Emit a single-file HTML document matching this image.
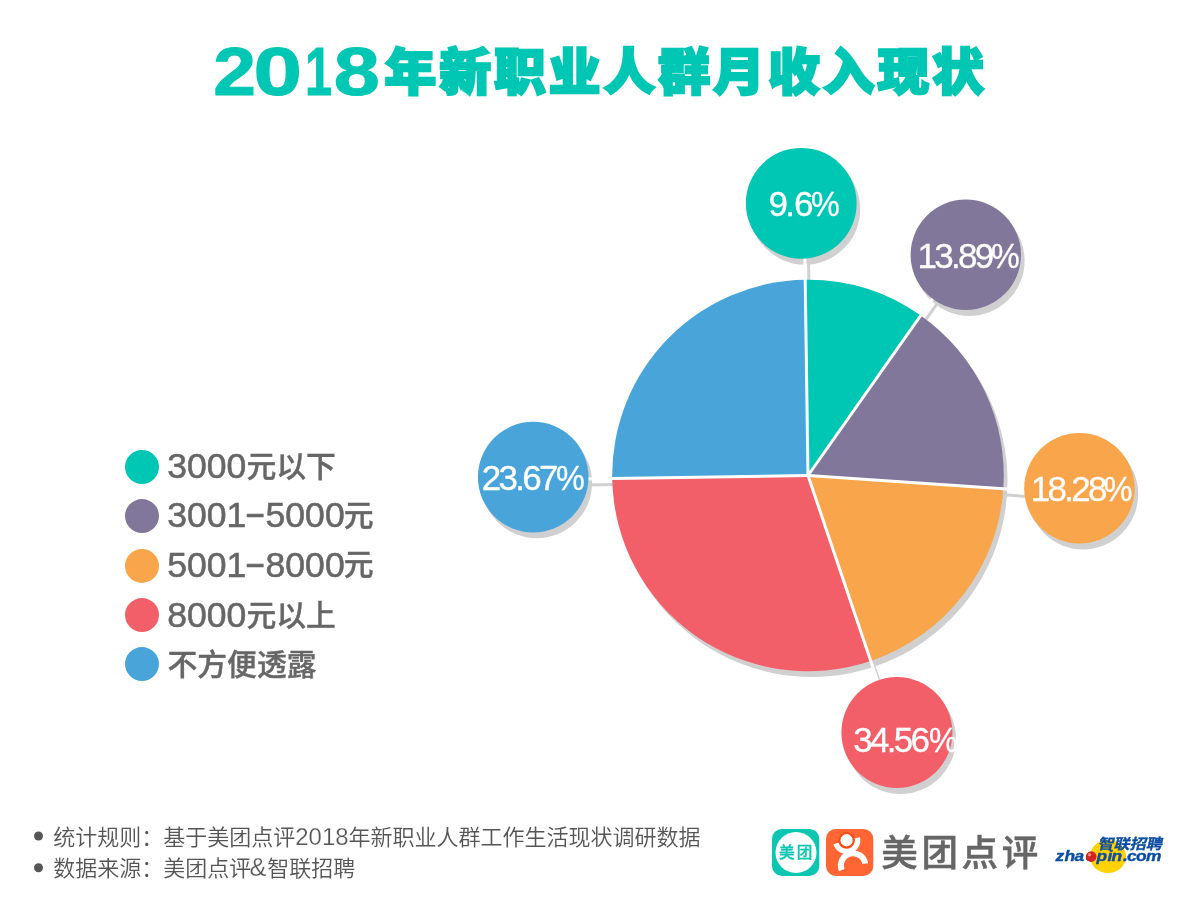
<!DOCTYPE html>
<html lang="zh-CN">
<head>
<meta charset="utf-8">
<title>2018年新职业人群月收入现状</title>
<style>
html,body{margin:0;padding:0;background:#fff;}
body{width:1200px;height:900px;overflow:hidden;position:relative;font-family:"Liberation Sans","Noto Sans CJK SC",sans-serif;}
svg{position:absolute;left:0;top:0;display:block;}
text{white-space:pre;}
.pct{font-family:"Liberation Sans",sans-serif;font-size:35px;fill:#fff;stroke:#fff;stroke-width:0.3px;letter-spacing:-2.7px;}
.lgd{font-family:"Liberation Sans",sans-serif;font-size:34.5px;fill:#666;stroke:#666;stroke-width:0.55px;}
.lgc{font-family:"Liberation Sans","Noto Sans CJK SC",sans-serif;font-size:29.8px;font-weight:500;fill:#666;stroke:#666;stroke-width:0.4px;}
.ft{font-family:"Liberation Sans","Noto Sans CJK SC",sans-serif;font-size:22px;font-weight:350;fill:#555;}
.ftd{font-size:24px;stroke:#fff;stroke-width:0.25px;}
.ttl{font-family:"Liberation Sans","Noto Sans CJK SC",sans-serif;font-weight:900;fill:#00c7b3;}
</style>
</head>
<body>
<svg width="1200" height="900" viewBox="0 0 1200 900">
<rect width="1200" height="900" fill="#fff"/>
<!-- title -->
<g class="ttl" font-weight="700" font-size="68" stroke="#00c7b3" stroke-width="1"><text transform="translate(213.15 95.1) scale(1.13 1)">2</text><text transform="translate(253.4 95.1) scale(1.28 1)">0</text><text transform="translate(305.0 95.1) scale(0.716 1)">1</text><text transform="translate(333.8 95.1) scale(1.217 1)">8</text></g>
<text class="ttl" font-size="51.8" letter-spacing="3" stroke="#00c7b3" stroke-width="2.4" stroke-linejoin="miter" transform="translate(384.4 90) scale(1 0.956)">年新职业人群月收入现状</text>
<!-- pie -->
<g fill="#d0d0d0">
<circle cx="811.7" cy="481.1" r="195.8"/>
<circle cx="804.85" cy="209.2" r="55.4"/>
<circle cx="969.4" cy="260.7" r="55.2"/>
<circle cx="1083" cy="494.2" r="55.2"/>
<circle cx="900.5" cy="738.4" r="55.5"/>
<circle cx="536.8" cy="483" r="55.3"/>
</g>
<g stroke="#d0d0d0" stroke-width="3.0">
<line x1="811.7" y1="481.7" x2="808.18" y2="235.73"/>
<line x1="811.7" y1="481.7" x2="953.35" y2="280.57"/>
<line x1="811.7" y1="481.7" x2="1057.13" y2="498.48"/>
<line x1="811.7" y1="481.7" x2="890.55" y2="714.72"/>
<line x1="811.7" y1="481.7" x2="565.73" y2="485.34"/>
</g>
<g>
<path fill="#00c7b3" d="M808 475.5L805.2 279.72A195.8 195.8 0 0 1 920.74 315.42Z"/>
<path fill="#81779b" d="M808 475.5L920.74 315.42A195.8 195.8 0 0 1 1003.34 488.86Z"/>
<path fill="#f8a54b" d="M808 475.5L1003.34 488.86A195.8 195.8 0 0 1 870.76 660.97Z"/>
<path fill="#f25f69" d="M808 475.5L870.76 660.97A195.8 195.8 0 0 1 612.22 478.4Z"/>
<path fill="#48a4d9" d="M808 475.5L612.22 478.4A195.8 195.8 0 0 1 805.2 279.72Z"/>
</g>
<g stroke="#fff" stroke-width="3.0" stroke-linecap="round">
<line x1="808" y1="475.5" x2="804.48" y2="229.53"/>
<line x1="808" y1="475.5" x2="949.65" y2="274.37"/>
<line x1="808" y1="475.5" x2="1053.43" y2="492.28"/>
<line x1="808" y1="475.5" x2="886.85" y2="708.52"/>
<line x1="808" y1="475.5" x2="562.03" y2="479.14"/>
</g>
<g>
<circle cx="801.25" cy="203.3" r="55.4" fill="#00c7b3"/>
<circle cx="965.8" cy="254.8" r="55.2" fill="#81779b"/>
<circle cx="1079.4" cy="488.3" r="55.2" fill="#f8a54b"/>
<circle cx="896.9" cy="732.5" r="55.5" fill="#f25f69"/>
<circle cx="533.2" cy="477.1" r="55.3" fill="#48a4d9"/>
</g>
<!-- pct labels -->
<text class="pct" x="768.6" y="216.0">9.<tspan dx="1.6">6</tspan></text><text class="pct" transform="translate(811.0 216.0) scale(0.925 1)">%</text>
<text class="pct" x="917.4" y="268.3">13.89</text><text class="pct" transform="translate(990.9 268.3) scale(0.925 1)">%</text>
<text class="pct" x="1030.8" y="500.8">18.28</text><text class="pct" transform="translate(1103.8 500.8) scale(0.925 1)">%</text>
<text class="pct" x="853.2" y="751.7">34.56</text><text class="pct" transform="translate(928.9 751.7) scale(0.925 1)">%</text>
<text class="pct" x="481.8" y="489.6">23.67</text><text class="pct" transform="translate(556.1 489.6) scale(0.925 1)">%</text>
<!-- legend -->
<g>
<circle cx="142" cy="467" r="17" fill="#00c7b3"/>
<circle cx="142" cy="516.1" r="17" fill="#81779b"/>
<circle cx="142" cy="565.9" r="17" fill="#f8a54b"/>
<circle cx="142" cy="615.1" r="17" fill="#f25f69"/>
<circle cx="142" cy="664.1" r="17" fill="#48a4d9"/>
<text class="lgd" transform="translate(167.2 477.9) scale(1.03 1)">3000</text><text class="lgc" x="246.4" y="476.6">元以下</text>
<text class="lgd" transform="translate(167.2 527.0) scale(1.03 1)">3001</text><text class="lgd" transform="translate(247 526.4) scale(0.85 1.25)">–</text><text class="lgd" transform="translate(265.6 527.0) scale(1.03 1)">5000</text><text class="lgc" x="343.8" y="525.7">元</text>
<text class="lgd" transform="translate(167.2 576.5) scale(1.03 1)">5001</text><text class="lgd" transform="translate(247 575.9) scale(0.85 1.25)">–</text><text class="lgd" transform="translate(265.6 576.5) scale(1.03 1)">8000</text><text class="lgc" x="343.8" y="575.0">元</text>
<text class="lgd" transform="translate(167.2 627) scale(1.03 1)">8000</text><text class="lgc" x="246.4" y="625.7">元以上</text>
<text class="lgc" x="167.5" y="675.3">不方便透露</text>
</g>
<!-- footer -->
<circle cx="38.5" cy="836" r="4.5" fill="#555"/>
<circle cx="38.5" cy="867.8" r="4.5" fill="#555"/>
<text class="ft" x="53.2" y="844.6">统计规则：基于美团点评<tspan class="ftd">2018</tspan>年新职业人群工作生活现状调研数据</text>
<text class="ft" x="53.2" y="876.4">数据来源：美团点评<tspan class="ftd" style="font-size:25.5px" dx="-1.6">&amp;</tspan><tspan dx="0.6">智联招聘</tspan></text>
<!-- logos -->
<g>
<rect x="772" y="828.9" width="47.3" height="47.1" rx="10" fill="#0cc6b1"/>
<circle cx="796" cy="852.4" r="20.5" fill="#fff"/>
<text x="778.9" y="858.4" font-size="15.6" font-weight="500" letter-spacing="2.2" fill="#0cc6b1" stroke="#0cc6b1" stroke-width="0.3" style="font-family:'Liberation Sans','Noto Sans CJK SC',sans-serif">美团</text>
<rect x="826" y="828.9" width="47.3" height="47.1" rx="10" fill="#ff6633"/>
<g fill="none" stroke="#fff">
<path d="M835.97 843.5A11.1 11.1 0 0 0 857.4 837.75" stroke-width="5.3"/>
<path d="M841.73 870.04A12.26 12.26 0 1 1 865.23 863.64" stroke-width="5.9"/>
</g>
<circle cx="846.58" cy="840.25" r="7.1" fill="#fff" stroke="#ff4a14" stroke-width="1.9"/>
<text x="881.2" y="866" font-size="36.5" font-weight="500" fill="#666" stroke="#666" stroke-width="0.5" letter-spacing="3.7" style="font-family:'Liberation Sans','Noto Sans CJK SC',sans-serif">美团点评</text>
<ellipse cx="1108" cy="856.5" rx="18" ry="16.6" fill="#ffd200"/>
<text transform="translate(1055.4 860.5) scale(1.19 1)" x="0.08 7.65 16.05 25.29 34.54 43.78 47.14 56.81 60.17 67.73 76.13" font-size="14.6" font-weight="700" font-style="italic" fill="#0b4da2" stroke="#0b4da2" stroke-width="0.35" style="font-family:'Liberation Sans',sans-serif">zhaopin.com</text>
<circle cx="1091.2" cy="856.6" r="5.3" fill="#d3221f"/>
<circle cx="1089.6" cy="854.8" r="1.7" fill="#f08a7a"/>
<text transform="translate(1097.5 849) scale(1.12 1) skewX(-12)" font-size="14.4" font-weight="700" fill="#0b4da2" stroke="#0b4da2" stroke-width="0.3" style="font-family:'Liberation Sans','Noto Sans CJK SC',sans-serif">智联招聘</text>

</g>
</svg>
</body>
</html>
